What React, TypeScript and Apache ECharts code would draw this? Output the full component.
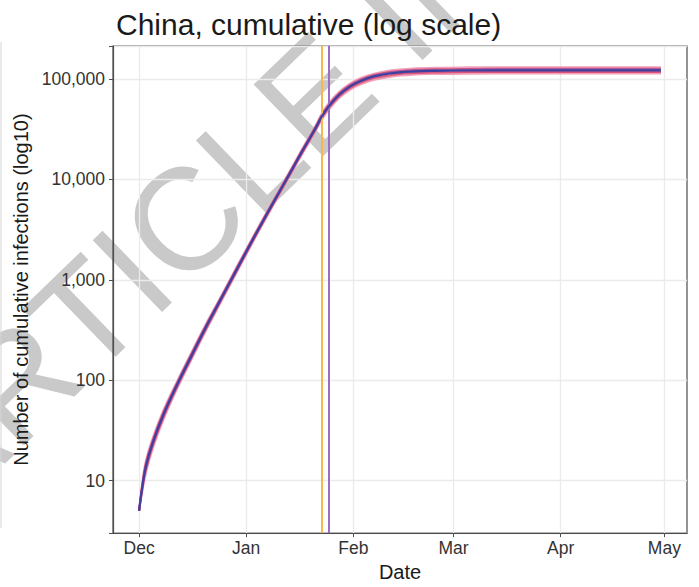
import React, { useEffect, useRef } from "react";
import * as echarts from "echarts";

const dates = [
  "2019-12-01", "2019-12-02", "2019-12-03", "2019-12-05", "2019-12-08", "2019-12-12",
  "2019-12-16", "2019-12-20", "2019-12-24", "2019-12-28", "2020-01-01", "2020-01-05",
  "2020-01-09", "2020-01-13", "2020-01-17", "2020-01-21", "2020-01-23", "2020-01-25",
  "2020-01-28", "2020-01-31", "2020-02-03", "2020-02-07", "2020-02-12", "2020-02-18",
  "2020-02-25", "2020-03-05", "2020-03-20", "2020-04-05", "2020-04-30",
];

const upperPink = [5, 10, 16, 27, 50, 98, 185, 345, 620, 1120, 2020, 3600, 6350, 11100, 19600, 34000, 46000, 58000, 75000, 90000, 102000, 113000, 122000, 127000, 129500, 130500, 131000, 131000, 131000];
const upperRed = [5, 9.5, 15, 25.5, 47.5, 94, 178, 333, 600, 1085, 1960, 3500, 6170, 10800, 19050, 33000, 44500, 56000, 72500, 87000, 98500, 109500, 118000, 122700, 125000, 126000, 126500, 126500, 126500];
const purpleLine = [5, 9, 14.5, 24.5, 46, 92, 174, 326, 590, 1068, 1930, 3450, 6085, 10650, 18780, 32500, 43700, 55000, 71200, 85500, 96700, 107700, 116000, 120500, 122700, 123700, 124200, 124200, 124200];
const lowerRed = [5, 8.5, 13, 22.5, 42.5, 86, 163, 307, 560, 1015, 1840, 3300, 5820, 10200, 17900, 31000, 41500, 52000, 67500, 81000, 91500, 102000, 109800, 114200, 116200, 117200, 117600, 117600, 117600];
const lowerPink = [5, 8, 12, 21, 40, 82, 156, 295, 540, 980, 1780, 3200, 5650, 9900, 17400, 30000, 40000, 50000, 65000, 78000, 88000, 98000, 105500, 110000, 112000, 113000, 113200, 113200, 113200];
const centralBlue = [5, 9, 14, 24, 45, 90, 170, 320, 580, 1050, 1900, 3400, 6000, 10500, 18500, 32000, 43000, 54000, 70000, 84000, 95000, 106000, 114000, 118500, 120500, 121500, 122000, 122000, 122000];

const tickMonths = ["2019-12-01", "2020-01-01", "2020-02-01", "2020-03-01", "2020-04-01", "2020-05-01"];
const tickMonthLabels = ["Dec", "Jan", "Feb", "Mar", "Apr", "May"];
const vLineDates = ["2020-01-23", "2020-01-25"];
const yTickLabels = [10, 100, 1000, 10000, 100000];

const FONT = "'Liberation Sans', Arial, Helvetica, sans-serif";
const BASE_DATE = "2019-12-01";

function dayOf(s: string) {
  const [y, m, d] = s.split("-").map(Number);
  const [by, bm, bd] = BASE_DATE.split("-").map(Number);
  return Math.round((Date.UTC(y, m - 1, d) - Date.UTC(by, bm - 1, bd)) / 86400000);
}

export default function App() {
  const ref = useRef<HTMLDivElement>(null);
  useEffect(() => {
    const chart = echarts.init(ref.current!, null, { renderer: "svg" });
    const mk = (vals: number[]) => dates.map((d, i) => [dayOf(d), vals[i]]);
    const lineSeries = (name: string, vals: number[], color: string, width: number, opacity: number, z: number) => ({
      name,
      type: "line",
      data: mk(vals),
      smooth: 0.4,
      showSymbol: false,
      symbol: "none",
      z,
      lineStyle: { color, width, opacity },
      silent: true,
    });
    const firstDay = dayOf(dates[0]);
    const lastDay = dayOf(dates[dates.length - 1]);
    const pad = (lastDay - firstDay) * 0.05;
    const tickDays = tickMonths.map(dayOf);
    chart.setOption({
      animation: false,
      title: {
        text: "China, cumulative (log scale)",
        left: 111,
        top: 4,
        textStyle: { fontFamily: FONT, fontSize: 30, fontWeight: "normal", color: "#1a1a1a" },
      },
      graphic: [
        {
          type: "text",
          x: 388,
          y: 24,
          z: -10,
          rotation: (44 * Math.PI) / 180,
          silent: true,
          style: {
            text: "ARTICLE IN PRESS",
            fontSize: 145,
            fontFamily: FONT,
            fill: "#c9c9c9",
            align: "center",
            verticalAlign: "middle",
          },
        },
        {
          type: "line",
          z: -10,
          shape: { x1: 1, y1: 42, x2: 1, y2: 528 },
          style: { stroke: "#d4d4d4", lineWidth: 1 },
        },
      ],
      grid: {
        left: 113,
        right: 12,
        top: 46,
        bottom: 50,
        show: true,
        borderColor: "#4d4d4d",
        borderWidth: 1.2,
        backgroundColor: "transparent",
      },
      xAxis: {
        type: "value",
        min: firstDay - pad,
        max: lastDay + pad,
        name: "Date",
        nameLocation: "middle",
        nameGap: 28,
        nameTextStyle: { fontFamily: FONT, fontSize: 20, color: "#1a1a1a" },
        axisLine: { show: true, onZero: false, lineStyle: { color: "#4d4d4d", width: 1.2 } },
        axisTick: { show: true, length: 4, lineStyle: { color: "#4d4d4d" }, customValues: tickDays },
        axisLabel: {
          fontFamily: FONT,
          fontSize: 17.5,
          color: "#333",
          margin: 6,
          customValues: tickDays,
          formatter: (v: number) => {
            const i = tickDays.findIndex((t) => Math.abs(t - v) < 1e-6);
            return i >= 0 ? tickMonthLabels[i] : "";
          },
        },
        splitLine: { show: true, lineStyle: { color: "#ebebeb", width: 1.3 } },
      },
      yAxis: {
        type: "log",
        logBase: 10,
        min: 3,
        max: 213000,
        name: "Number of cumulative infections (log10)",
        nameLocation: "middle",
        nameGap: 79,
        nameTextStyle: { fontFamily: FONT, fontSize: 20, color: "#1a1a1a" },
        axisLine: { show: true, onZero: false, lineStyle: { color: "#4d4d4d", width: 1.2 } },
        axisTick: { show: true, length: 4, lineStyle: { color: "#4d4d4d" } },
        axisLabel: {
          fontFamily: FONT,
          fontSize: 17.5,
          color: "#333",
          margin: 8,
          formatter: (v: number) => {
            const l = Math.log10(v);
            const match = yTickLabels.find((t) => Math.abs(Math.log10(t) - l) < 1e-6);
            return match !== undefined ? match.toLocaleString("en-US") : "";
          },
        },
        splitLine: { show: true, lineStyle: { color: "#ebebeb", width: 1.3 } },
      },
      series: [
        {
          name: "vlines",
          type: "line",
          data: [],
          z: 1,
          markLine: {
            silent: true,
            symbol: "none",
            label: { show: false },
            data: [
              { xAxis: dayOf(vLineDates[0]), lineStyle: { color: "#f8b74a", width: 2, type: "solid" } },
              { xAxis: dayOf(vLineDates[1]), lineStyle: { color: "#9b6ec1", width: 2, type: "solid" } },
            ],
          },
        },
        lineSeries("upperPink", upperPink, "#ef8fae", 2, 0.85, 2),
        lineSeries("lowerPink", lowerPink, "#ef8fae", 2, 0.85, 2),
        lineSeries("upperRed", upperRed, "#d6456f", 2, 0.9, 3),
        lineSeries("lowerRed", lowerRed, "#d6456f", 2, 0.9, 3),
        lineSeries("purple", purpleLine, "#8e5aa8", 2, 1, 4),
        lineSeries("blue", centralBlue, "#3f3f9f", 2.2, 1, 5),
      ],
    });
    return () => chart.dispose();
  }, []);
  return (
    <div
      ref={ref}
      style={{ position: "absolute", left: 0, top: 0, width: 699, height: 587, background: "#fff" }}
    />
  );
}
